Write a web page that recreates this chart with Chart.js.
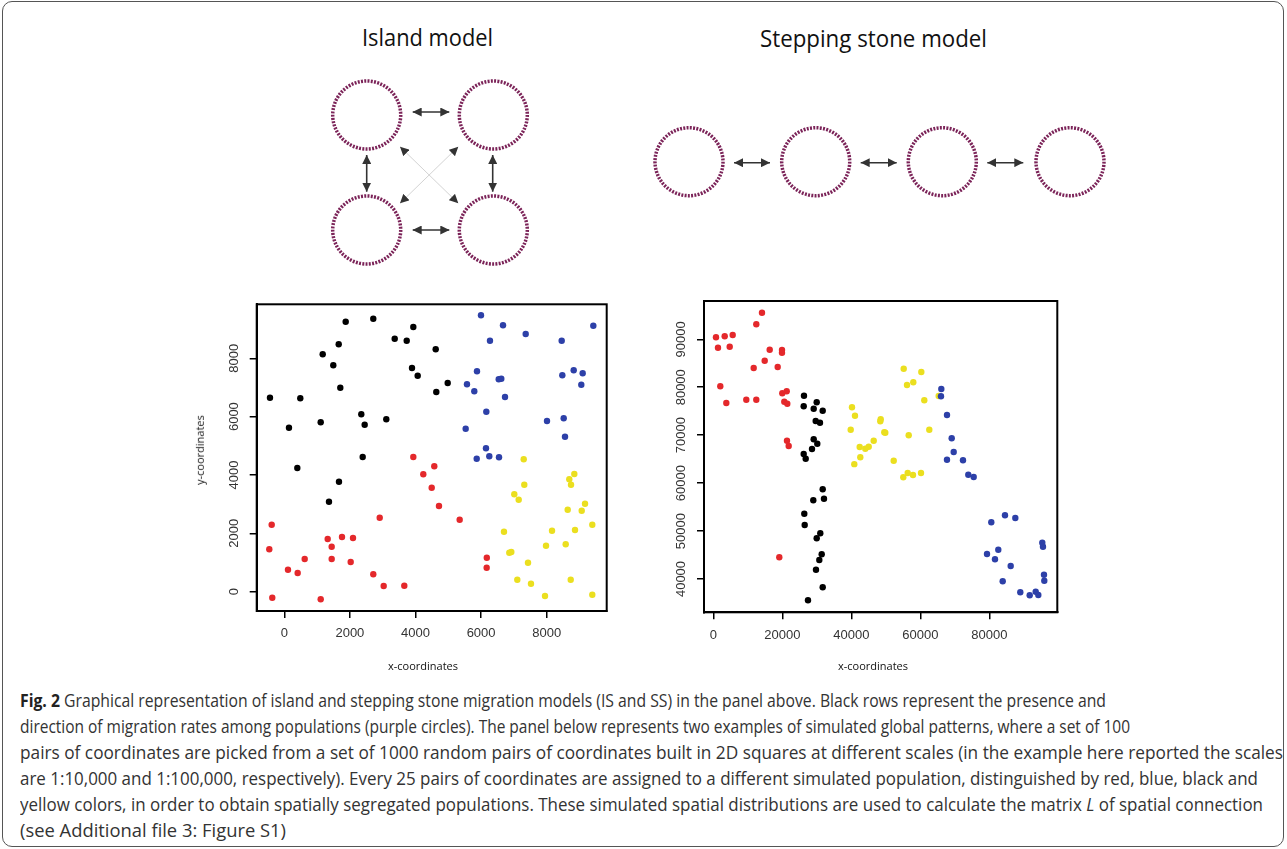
<!DOCTYPE html>
<html>
<head>
<meta charset="utf-8">
<script src="https://cdn.jsdelivr.net/npm/chart.js@4.4.0/dist/chart.umd.min.js"></script>
<style>
  body { margin: 0; width: 1287px; height: 849px; background: #fff; position: relative; overflow: hidden; font-family: "Open Sans", sans-serif; }
  #frame { position: absolute; left: 2px; top: 1px; width: 1280px; height: 844px; border: 1.5px solid #555; border-radius: 10px; }
  .fit { position: absolute; white-space: nowrap; transform-origin: left center; }
  .ttl { font-size: 24px; line-height: 30px; color: #111; }
  .cap { font-size: 18px; line-height: 26px; color: #333; left: 20px; }
  .cap b { color: #222; }
  .axt { position: absolute; font-size: 11px; line-height: 14px; color: #111; white-space: nowrap; }
  canvas { position: absolute; }
  svg { position: absolute; left: 0; top: 0; }
</style>
</head>
<body>
<div id="frame"></div>

<div class="fit ttl" style="left:362px; top:22px" data-w="131">Island model</div>
<div class="fit ttl" style="left:760px; top:23px" data-w="227">Stepping stone model</div>

<svg width="1287" height="290">
  <defs>
    <marker id="ah" viewBox="0 0 10 10" refX="10" refY="5" markerWidth="9" markerHeight="9" markerUnits="userSpaceOnUse" orient="auto-start-reverse">
      <path d="M0,0 L10,5 L0,10 z" fill="#333"/>
    </marker>
  </defs>
  <g fill="none" stroke="#7b2358" stroke-width="3.5" stroke-dasharray="1.2 0.8">
    <circle cx="366.7" cy="115" r="34" pathLength="130"/>
    <circle cx="493.3" cy="115" r="34" pathLength="130"/>
    <circle cx="366.7" cy="230" r="34" pathLength="130"/>
    <circle cx="493.3" cy="230" r="34" pathLength="130"/>
    <circle cx="689" cy="161.7" r="34" pathLength="130"/>
    <circle cx="815.7" cy="161.7" r="34" pathLength="130"/>
    <circle cx="942.3" cy="161.7" r="34" pathLength="130"/>
    <circle cx="1070" cy="161.7" r="34" pathLength="130"/>
  </g>
  <g stroke="#333" stroke-width="1.6" marker-start="url(#ah)" marker-end="url(#ah)">
    <line x1="412.7" y1="112" x2="449.3" y2="112"/>
    <line x1="412.7" y1="230" x2="449.3" y2="230"/>
    <line x1="366.7" y1="155" x2="366.7" y2="191.7"/>
    <line x1="492.7" y1="155" x2="492.7" y2="191.7"/>
    <line x1="734" y1="162.7" x2="770" y2="162.7"/>
    <line x1="860.7" y1="162.7" x2="896.7" y2="162.7"/>
    <line x1="987.3" y1="162.7" x2="1023.3" y2="162.7"/>
  </g>
  <g stroke="#c8c8c8" stroke-width="0.8" marker-start="url(#ah)" marker-end="url(#ah)">
    <line x1="400" y1="146.7" x2="458.3" y2="203.3"/>
    <line x1="458.3" y1="146.7" x2="400" y2="203.3"/>
  </g>
</svg>

<canvas id="islandChart" width="440" height="390" style="left:180px; top:290px"></canvas>
<canvas id="stoneChart" width="450" height="390" style="left:625px; top:290px"></canvas>

<div class="axt" style="left:388px; top:659px">x-coordinates</div>
<div class="axt" style="left:838px; top:659px">x-coordinates</div>
<div class="axt" style="left:165px; top:443px; transform: rotate(-90deg)">y-coordinates</div>

<div class="fit cap" style="top:687px" data-w="1086"><b>Fig. 2</b> Graphical representation of island and stepping stone migration models (IS and SS) in the panel above. Black rows represent the presence and</div>
<div class="fit cap" style="top:713px" data-w="1110">direction of migration rates among populations (purple circles). The panel below represents two examples of simulated global patterns, where a set of 100</div>
<div class="fit cap" style="top:739px" data-w="1263">pairs of coordinates are picked from a set of 1000 random pairs of coordinates built in 2D squares at different scales (in the example here reported the scales</div>
<div class="fit cap" style="top:765px" data-w="1238">are 1:10,000 and 1:100,000, respectively). Every 25 pairs of coordinates are assigned to a different simulated population, distinguished by red, blue, black and</div>
<div class="fit cap" style="top:791px" data-w="1243">yellow colors, in order to obtain spatially segregated populations. These simulated spatial distributions are used to calculate the matrix <i>L</i> of spatial connection</div>
<div class="fit cap" style="top:817px" data-w="266">(see Additional file 3: Figure S1)</div>

<script>
// tick labels
const islandTicks = [0, 2000, 4000, 6000, 8000];
const stoneXTicks = [0, 20000, 40000, 60000, 80000];
const stoneYTicks = [40000, 50000, 60000, 70000, 80000, 90000];

// island model example (1:10,000) - [x, y] pairs
const islandRed = [
  [-384, 2296], [-457, 1453], [-366, -206], [113, 754], [408, 641], [622, 1120],
  [1110, -260], [1323, 1806], [1445, 1542], [1445, 1120], [1759, 1875], [2095, 1840],
  [2024, 1018], [2909, 2536], [2713, 596], [3030, 195], [3659, 206], [3933, 4616],
  [4573, 4297], [4238, 4023], [4494, 3564], [4716, 2937], [5347, 2467], [6174, 1165],
  [6170, 822]
];
const islandBlack = [
  [-436, 6649], [143, 5620], [488, 6628], [1110, 5805], [1171, 8136], [1494, 7759],
  [1659, 8478], [1708, 6991], [1872, 9253], [2348, 6079], [2451, 5723], [2713, 9356],
  [3110, 5908], [3366, 8670], [3732, 8602], [3933, 9071], [3893, 7666], [4067, 7402],
  [4616, 8307], [4982, 7152], [4634, 6844], [397, 4239], [2390, 4616], [1668, 3770],
  [1363, 3084]
];
const islandBlue = [
  [5997, 9472], [6668, 9129], [7360, 8831], [9421, 9116], [8457, 8602], [6271, 8602],
  [5875, 7553], [8476, 7416], [8823, 7587], [9097, 7484], [9055, 7094], [6537, 7279],
  [6616, 7300], [5570, 7108], [5793, 6868], [6729, 6672], [6159, 6168], [8009, 5850],
  [8518, 5942], [5530, 5586], [8558, 5312], [6149, 4914], [5866, 4558], [6250, 4640],
  [6546, 4606]
];
const islandYellow = [
  [7299, 4537], [8842, 4034], [8689, 3852], [8741, 3667], [7317, 3667], [7012, 3338],
  [7146, 3153], [9168, 3016], [8640, 2810], [9067, 2776], [9390, 2296], [6698, 2056],
  [8162, 2090], [8863, 2114], [7979, 1576], [8579, 1624], [6860, 1337], [6921, 1360],
  [7430, 994], [7104, 411], [8732, 411], [7521, 274], [7948, -147], [9390, -103]
];

// stepping stone example (1:100,000)
const stoneRed = [
  [783, 90419], [3304, 90627], [5623, 90898], [1362, 88249], [4754, 88458], [12464, 93128],
  [14116, 95547], [16348, 87831], [14899, 85536], [19913, 87768], [19913, 87205], [18667, 84222],
  [11710, 84013], [2029, 80196], [3768, 76712], [9565, 77400], [12464, 77400], [20000, 78735],
  [21275, 79152], [20580, 76983], [21449, 76566], [21362, 68848], [21855, 67742], [19130, 44526]
];
const stoneBlack = [
  [26290, 78235], [26203, 76024], [29971, 76858], [29101, 75523], [31710, 75106], [29681, 72957],
  [30928, 72602], [29101, 69140], [30145, 68222], [28609, 67116], [26203, 66075], [26783, 65095],
  [31710, 58711], [28986, 56418], [32087, 56752], [26377, 53621], [26493, 51264], [31014, 49533],
  [29971, 48490], [31420, 45152], [30725, 43963], [29768, 41940], [31710, 38268], [27449, 35557]
];
const stoneYellow = [
  [40203, 75816], [41072, 74065], [39826, 71144], [48522, 73314], [48406, 72895], [46493, 68848],
  [45044, 67596], [44058, 67179], [42435, 67534], [49565, 70601], [55188, 83866], [60290, 83178],
  [56145, 80466], [57971, 81029], [61159, 77274], [65333, 78172], [49855, 70518], [56638, 69975],
  [62609, 71144], [52290, 64677], [55072, 61214], [56348, 62111], [57884, 61694], [60203, 62111],
  [40870, 63959], [42609, 65387]
];
const stoneBlue = [
  [66087, 79633], [66000, 78110], [67739, 74210], [69101, 69349], [69681, 66492], [67739, 64887],
  [72377, 64761], [73913, 61757], [75478, 61277], [80580, 51827], [84551, 53288], [87536, 52724],
  [95362, 47572], [95565, 46737], [79333, 45215], [82609, 46112], [81652, 44109], [86203, 42712],
  [83884, 39520], [95855, 40897], [95942, 39645], [88986, 37226], [91710, 36600], [93449, 37351],
  [94203, 36662]
];

const popColors = { red: "#e4282b", black: "#000000", blue: "#2d40a8", yellow: "#ebdf1f" };
const tickFont = { family: "Liberation Sans", size: 13 };

// R-style box round the plot region plus rotated y tick labels
const rFrame = {
  id: "rFrame",
  afterDraw(chart, args, opts) {
    const { ctx, chartArea: a, scales: { y } } = chart;
    ctx.save();
    ctx.strokeStyle = "#000";
    ctx.lineWidth = 2;
    ctx.strokeRect(a.left, a.top, a.right - a.left, a.bottom - a.top);
    ctx.fillStyle = "#333";
    ctx.font = tickFont.size + "px " + tickFont.family;
    ctx.textAlign = "center";
    ctx.textBaseline = "middle";
    y.ticks.forEach(t => {
      ctx.save();
      ctx.translate(a.left - opts.labelGap, y.getPixelForValue(t.value));
      ctx.rotate(-Math.PI / 2);
      ctx.fillText(String(t.value), 0, 0);
      ctx.restore();
    });
    ctx.restore();
  }
};

function toPoints(pairs) {
  return pairs.map(p => ({ x: p[0], y: p[1] }));
}

function makeScatter(id, sets, cfg) {
  const ctx = document.getElementById(id).getContext("2d");
  return new Chart(ctx, {
    type: "scatter",
    data: {
      // first dataset is drawn on top
      datasets: sets.map(s => ({
        data: toPoints(s.pts),
        backgroundColor: s.color,
        borderColor: s.color,
        borderWidth: 0,
        pointRadius: 3.2,
        pointHoverRadius: 3.2
      }))
    },
    options: {
      responsive: false,
      animation: false,
      events: [],
      layout: { padding: cfg.padding },
      plugins: {
        legend: { display: false },
        tooltip: { enabled: false },
        rFrame: { labelGap: cfg.labelGap }
      },
      scales: {
        x: {
          type: "linear",
          min: cfg.xRange[0],
          max: cfg.xRange[1],
          afterBuildTicks: s => { s.ticks = cfg.xTicks.map(v => ({ value: v })); },
          afterFit: s => { s.height = cfg.xHeight; },
          grid: { drawOnChartArea: false, tickLength: 7, color: "#000", lineWidth: 1.5 },
          border: { color: "#000", width: 2 },
          ticks: { color: "#333", font: tickFont, padding: 8, maxRotation: 0, autoSkip: false, callback: v => String(v) }
        },
        y: {
          type: "linear",
          min: cfg.yRange[0],
          max: cfg.yRange[1],
          afterBuildTicks: s => { s.ticks = cfg.yTicks.map(v => ({ value: v })); },
          afterFit: s => { s.width = cfg.yWidth; },
          grid: { drawOnChartArea: false, tickLength: 7, color: "#000", lineWidth: 1.5 },
          border: { color: "#000", width: 2 },
          ticks: { display: false }
        }
      }
    },
    plugins: [rFrame]
  });
}

makeScatter("islandChart", [
  { pts: islandBlue, color: popColors.blue },
  { pts: islandYellow, color: popColors.yellow },
  { pts: islandBlack, color: popColors.black },
  { pts: islandRed, color: popColors.red }
], {
  xRange: [-841, 9829], yRange: [-661, 9849],
  xTicks: islandTicks, yTicks: islandTicks,
  padding: { left: 0, top: 14.3, right: 13.3, bottom: 0 },
  yWidth: 76.7, xHeight: 69, labelGap: 22
});

makeScatter("stoneChart", [
  { pts: stoneBlue, color: popColors.blue },
  { pts: stoneYellow, color: popColors.yellow },
  { pts: stoneBlack, color: popColors.black },
  { pts: stoneRed, color: popColors.red }
], {
  xRange: [-2696, 99710], yRange: [33054, 97990],
  xTicks: stoneXTicks, yTicks: stoneYTicks,
  padding: { left: 0, top: 11, right: 17.7, bottom: 0 },
  yWidth: 79, xHeight: 67.7, labelGap: 22.3
});

// squeeze text lines to the widths in the reference
document.querySelectorAll(".fit").forEach(el => {
  const w = el.getBoundingClientRect().width;
  el.style.transform = "scaleX(" + (el.dataset.w / w) + ")";
});
</script>
</body>
</html>
